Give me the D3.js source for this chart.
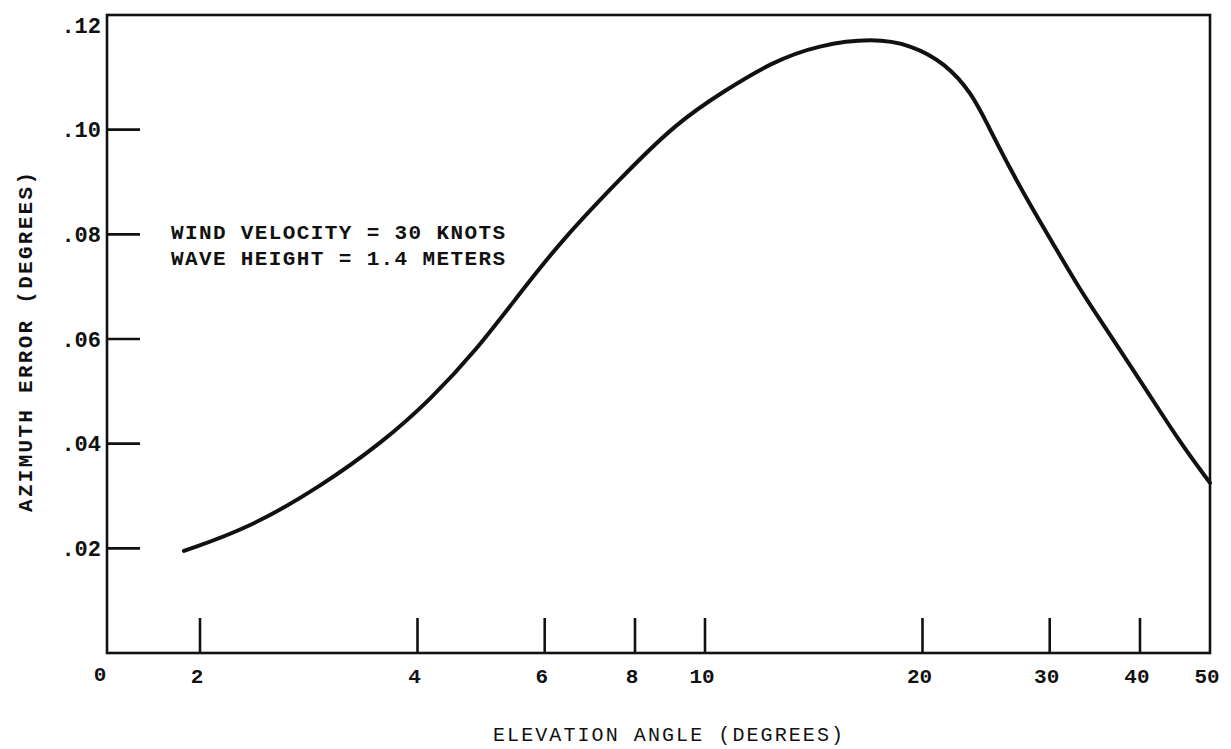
<!DOCTYPE html>
<html>
<head>
<meta charset="utf-8">
<script src="https://cdn.jsdelivr.net/npm/d3@7"></script>
<style>
    body { margin: 0; background: #fff; }
    text { font-family: "Liberation Mono", "DejaVu Sans Mono", monospace; fill: #111; }
</style>
</head>
<body>
<div id="chart"></div>
<script>
// elevation angle (degrees) and azimuth error (degrees)
let elevation = [1.9, 2.34, 2.93, 3.58, 4.16, 4.83, 5.59, 6.34, 7.60, 9.12, 10.69, 12.37, 14.37, 17.1, 19.3, 21.5, 23.4, 24.7, 26.5, 28.3, 30.5, 32.9, 34.7, 40.6, 45.2, 50];
let azError = [0.0195, 0.0239, 0.0317, 0.0403, 0.0483, 0.0579, 0.0694, 0.0789, 0.0904, 0.1013, 0.1076, 0.1129, 0.1162, 0.1175, 0.1162, 0.1127, 0.1070, 0.1005, 0.0923, 0.0852, 0.0776, 0.0699, 0.0650, 0.0508, 0.0407, 0.0325];

let xTicks = [2, 4, 6, 8, 10, 20, 30, 40];
let xTickLabels = ["2", "4", "6", "8", "10", "20", "30", "40", "50"];
let yTicks = [0.02, 0.04, 0.06, 0.08, 0.10];
let yTickLabels = [".02", ".04", ".06", ".08", ".10", ".12"];
let notes = ["WIND VELOCITY = 30 KNOTS", "WAVE HEIGHT = 1.4 METERS"];

let width = 1231, height = 749;
let frame = { left: 107, top: 15 };

let svg = d3.select("#chart").append("svg")
    .attr("width", width)
    .attr("height", height);

// log scale for elevation, the left edge of the frame is the "0"
let x = d3.scaleLog().domain([2, 50]).range([200, 1210]);
let y = d3.scaleLinear().domain([0, 0.12]).range([653, 25]);

let data = elevation.map((d, i) => ({ angle: d, err: azError[i] }));

// frame
svg.append("rect")
    .attr("x", frame.left)
    .attr("y", frame.top)
    .attr("width", x(50) - frame.left)
    .attr("height", y(0) - frame.top)
    .attr("fill", "none")
    .attr("stroke", "#111")
    .attr("stroke-width", 2.6);

// y ticks (inside, short dashes)
svg.selectAll(".ytick")
    .data(yTicks)
    .enter().append("line")
    .attr("class", "ytick")
    .attr("x1", frame.left)
    .attr("x2", frame.left + 33)
    .attr("y1", d => y(d))
    .attr("y2", d => y(d))
    .attr("stroke", "#111")
    .attr("stroke-width", 2.6);

svg.selectAll(".ylabel")
    .data([0.02, 0.04, 0.06, 0.08, 0.10, 0.12])
    .enter().append("text")
    .attr("class", "ylabel")
    .attr("x", 101)
    .attr("y", d => y(d))
    .attr("dy", "0.35em")
    .attr("text-anchor", "end")
    .style("font-size", "22px")
    .style("font-weight", "bold")
    .text((d, i) => yTickLabels[i]);

// x ticks (pointing up from the bottom)
svg.selectAll(".xtick")
    .data(xTicks)
    .enter().append("line")
    .attr("class", "xtick")
    .attr("x1", d => x(d))
    .attr("x2", d => x(d))
    .attr("y1", y(0))
    .attr("y2", y(0) - 35)
    .attr("stroke", "#111")
    .attr("stroke-width", 2.6);

svg.selectAll(".xlabel")
    .data([2, 4, 6, 8, 10, 20, 30, 40, 50])
    .enter().append("text")
    .attr("class", "xlabel")
    .attr("x", d => x(d) - 3)
    .attr("y", 683)
    .attr("text-anchor", "middle")
    .style("font-size", "21px")
    .style("font-weight", "bold")
    .text((d, i) => xTickLabels[i]);

svg.append("text")
    .attr("x", frame.left - 7)
    .attr("y", 681)
    .attr("text-anchor", "middle")
    .style("font-size", "21px")
    .style("font-weight", "bold")
    .text("0");

// axis titles
svg.append("text")
    .attr("x", 668)
    .attr("y", 741)
    .attr("text-anchor", "middle")
    .attr("textLength", 350)
    .attr("lengthAdjust", "spacing")
    .style("font-size", "20px")
    .text("ELEVATION ANGLE (DEGREES)");

svg.append("text")
    .attr("transform", "translate(32,342) rotate(-90)")
    .attr("text-anchor", "middle")
    .attr("textLength", 340)
    .attr("lengthAdjust", "spacing")
    .style("font-size", "21px")
    .style("font-weight", "bold")
    .text("AZIMUTH ERROR (DEGREES)");

// annotation
svg.selectAll(".note")
    .data(notes)
    .enter().append("text")
    .attr("class", "note")
    .attr("x", 171)
    .attr("y", (d, i) => 239 + i * 26)
    .attr("textLength", 334)
    .attr("lengthAdjust", "spacing")
    .style("font-size", "21px")
    .style("font-weight", "bold")
    .text(d => d);

// curve (hand drawn in the original, so smoothed)
let line = d3.line()
    .curve(d3.curveBasis)
    .x(d => x(d.angle))
    .y(d => y(d.err));

svg.append("path")
    .datum(data)
    .attr("d", line)
    .attr("fill", "none")
    .attr("stroke", "#111")
    .attr("stroke-width", 4)
    .attr("stroke-linecap", "round");
</script>
</body>
</html>
